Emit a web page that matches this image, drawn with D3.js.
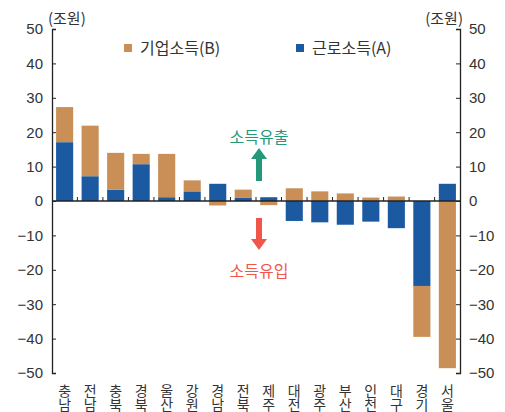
<!DOCTYPE html>
<html>
<head>
<meta charset="utf-8">
<script src="https://cdn.jsdelivr.net/npm/d3@7"></script>
<style>
  body { margin: 0; background: #fff; }
  text { font-family: "Noto Sans CJK KR", "Noto Sans", sans-serif; }
  .vlabel { writing-mode: vertical-rl; text-orientation: upright; }
</style>
</head>
<body>
<div id="chart"></div>
<script>
const chartWidth = 505;
const chartHeight = 412;

const margin = { top: 29, bottom: 39, left: 52, right: 45 };

// regions, left to right
const regions = ["충남", "전남", "충북", "경북", "울산", "강원", "경남", "전북",
                 "제주", "대전", "광주", "부산", "인천", "대구", "경기", "서울"];

// 근로소득(A), 조원
const labourIncome = [17.1, 7.2, 3.3, 10.7, 1.1, 2.8, 5.0, 0.9,
                      1.1, -5.8, -6.2, -6.9, -6.0, -7.9, -24.7, 5.0];

// 기업소득(B), 조원
const businessIncome = [10.2, 14.7, 10.7, 3.0, 12.6, 3.2, -1.3, 2.4,
                        -1.2, 3.7, 2.8, 2.2, 1.0, 1.3, -14.8, -48.6];

const yTicks = [50, 40, 30, 20, 10, 0, -10, -20, -30, -40, -50];

const colorA = "#1b5aa0";
const colorB = "#c98f57";

// build stacked segments: A sits next to zero, B goes on top in the same direction
var segments = [];
for (var i = 0; i < regions.length; i++) {
  var a = labourIncome[i], b = businessIncome[i];
  var pos = 0, neg = 0;
  [[a, colorA], [b, colorB]].forEach(function(s) {
    var v = s[0];
    if (v >= 0) { segments.push({ region: regions[i], y0: pos, y1: pos + v, color: s[1] }); pos += v; }
    else { segments.push({ region: regions[i], y0: neg, y1: neg + v, color: s[1] }); neg += v; }
  });
}

var svg = d3.select("#chart").append("svg")
  .attr("width", chartWidth)
  .attr("height", chartHeight);

var x = d3.scaleBand()
  .domain(regions)
  .range([margin.left, chartWidth - margin.right])
  .paddingInner(0.33)
  .paddingOuter(0.16);

var y = d3.scaleLinear()
  .domain([-50, 50])
  .range([chartHeight - margin.bottom, margin.top]);

var fmt = function(d) { return d < 0 ? "\u2212" + Math.abs(d) : String(d); };

// bars
svg.append("g").selectAll("rect")
  .data(segments)
  .enter().append("rect")
  .attr("x", d => x(d.region))
  .attr("width", x.bandwidth())
  .attr("y", d => y(Math.max(d.y0, d.y1)))
  .attr("height", d => Math.abs(y(d.y0) - y(d.y1)))
  .attr("fill", d => d.color);

// zero line with small ticks between categories
var x0 = x.range()[0], x1 = x.range()[1];
svg.append("line")
  .attr("x1", x0).attr("x2", x1)
  .attr("y1", y(0)).attr("y2", y(0))
  .attr("stroke", "#222").attr("stroke-width", 1.3);

var step = x.step();
svg.append("g").selectAll("line")
  .data(regions.slice(1))
  .enter().append("line")
  .attr("x1", d => x(d) - step * x.paddingInner() / 2)
  .attr("x2", d => x(d) - step * x.paddingInner() / 2)
  .attr("y1", y(0)).attr("y2", y(0) - 4)
  .attr("stroke", "#222").attr("stroke-width", 1);

// left & right axes
var leftAxis = d3.axisLeft(y).tickValues(yTicks).tickSize(-4).tickPadding(9).tickFormat(fmt);
var rightAxis = d3.axisRight(y).tickValues(yTicks).tickSize(-4).tickPadding(9).tickFormat(fmt);

[[leftAxis, margin.left], [rightAxis, chartWidth - margin.right]].forEach(function(p) {
  var g = svg.append("g")
    .attr("transform", "translate(" + p[1] + ",0)")
    .call(p[0]);
  g.select(".domain").attr("stroke", "#222").attr("stroke-width", 1.3);
  g.selectAll(".tick line").attr("stroke", "#222");
  g.selectAll(".tick text")
    .attr("fill", "#333")
    .style("font-size", "15px")
    .style("font-family", "Arial, 'Liberation Sans', sans-serif");
});

// unit labels
svg.append("text").attr("x", 48).attr("y", 24)
  .attr("font-size", 15).attr("fill", "#333").text("(조원)");
svg.append("text").attr("x", 463).attr("y", 24)
  .attr("font-size", 15).attr("fill", "#333").attr("text-anchor", "end").text("(조원)");

// category labels, written top to bottom
svg.append("g").selectAll("text")
  .data(regions)
  .enter().append("text")
  .attr("class", "vlabel")
  .attr("x", d => x(d) + x.bandwidth() / 2)
  .attr("y", 384)
  .attr("font-size", 14)
  .attr("fill", "#333")
  .text(d => d);

// legend
var legend = [["기업소득(B)", colorB, 124], ["근로소득(A)", colorA, 296]];
legend.forEach(function(l) {
  svg.append("rect").attr("x", l[2]).attr("y", 44).attr("width", 8).attr("height", 8).attr("fill", l[1]);
  svg.append("text").attr("x", l[2] + 16).attr("y", 54)
    .attr("font-size", 16).attr("fill", "#333").text(l[0]);
});

// annotations
var green = "#26987a", red = "#f0574a";
svg.append("text").attr("x", 259).attr("y", 143).attr("text-anchor", "middle")
  .attr("font-size", 16).attr("fill", green).text("소득유출");
svg.append("path")
  .attr("d", "M259,148 L267,159 L262,159 L262,181 L256,181 L256,159 L251,159 Z")
  .attr("fill", green);
svg.append("path")
  .attr("d", "M259,250 L267,239 L262,239 L262,218 L256,218 L256,239 L251,239 Z")
  .attr("fill", red);
svg.append("text").attr("x", 259).attr("y", 277).attr("text-anchor", "middle")
  .attr("font-size", 16).attr("fill", red).text("소득유입");
</script>
</body>
</html>
